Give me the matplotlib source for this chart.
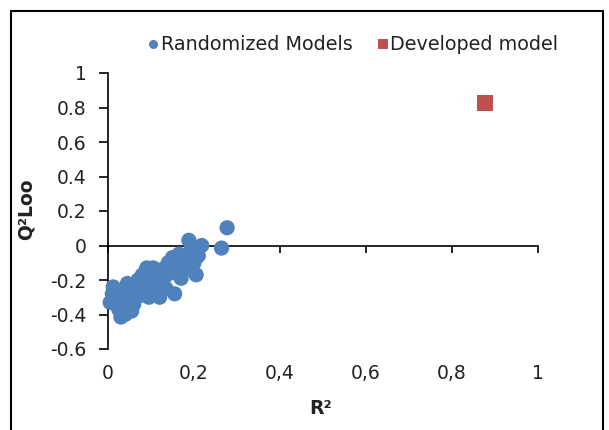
import matplotlib
matplotlib.use("Agg")
import matplotlib.pyplot as plt
from matplotlib.lines import Line2D
from matplotlib.patches import Rectangle
from matplotlib.ticker import FuncFormatter

plt.rcParams['font.family'] = ['DejaVu Sans']

# Randomized models (R², Q²Loo)
rand_r2 = [0.005, 0.012, 0.020, 0.025, 0.030, 0.035, 0.040, 0.045, 0.050, 0.055,
           0.060, 0.065, 0.070, 0.075, 0.080, 0.085, 0.090, 0.095, 0.100, 0.105,
           0.110, 0.115, 0.120, 0.125, 0.130, 0.135, 0.140, 0.145, 0.150, 0.155,
           0.160, 0.165, 0.170, 0.175, 0.180, 0.188, 0.190, 0.200, 0.205, 0.210,
           0.218, 0.264, 0.277, 0.010, 0.050, 0.100, 0.040, 0.120]
rand_q2 = [-0.33, -0.24, -0.29, -0.37, -0.415, -0.32, -0.26, -0.22, -0.30, -0.38,
           -0.34, -0.25, -0.20, -0.29, -0.17, -0.23, -0.13, -0.30, -0.20, -0.13,
           -0.26, -0.17, -0.22, -0.14, -0.19, -0.25, -0.10, -0.16, -0.07, -0.28,
           -0.13, -0.05, -0.19, -0.09, -0.14, 0.03, -0.04, -0.10, -0.17, -0.06,
           0.00, -0.015, 0.103, -0.28, -0.35, -0.27, -0.40, -0.30]

# Developed model
dev_r2 = [0.877]
dev_q2 = [0.825]

x_ticks = [0, 0.2, 0.4, 0.6, 0.8, 1]
y_ticks = [-0.6, -0.4, -0.2, 0, 0.2, 0.4, 0.6, 0.8, 1]

blue = '#4F81BD'
red = '#C0504D'
txt = '#222222'

fig = plt.figure(figsize=(6.09, 4.30), dpi=100)
ax = fig.add_axes([108/609, 1-349/430, (538-108)/609, (349-73)/430])

ax.scatter(rand_r2, rand_q2, s=120, color=blue, edgecolors='none', zorder=3, clip_on=False)
ax.scatter(dev_r2, dev_q2, s=135, marker='s', color=red, edgecolors='none', zorder=3, clip_on=False)

ax.set_xlim(0, 1)
ax.set_ylim(-0.6, 1)

for s in ['top', 'right']:
    ax.spines[s].set_visible(False)
ax.spines['bottom'].set_position(('data', 0))
ax.spines['bottom'].set_linewidth(1.2)
ax.spines['left'].set_linewidth(1.2)
ax.spines['bottom'].set_zorder(2)

ax.set_yticks(y_ticks)
ax.set_yticklabels([('%g' % v) for v in y_ticks])
ax.tick_params(axis='y', direction='out', length=6.5, width=1.2, pad=9,
               labelsize=13.5, labelcolor=txt)
ax.set_xticks(x_ticks)
ax.tick_params(axis='x', direction='out', length=5, width=1.2, labelbottom=False)

sec = ax.secondary_xaxis('bottom')
sec.set_xticks(x_ticks)
sec.xaxis.set_major_formatter(FuncFormatter(lambda v, p: ('%g' % v).replace('.', ',')))
sec.spines['bottom'].set_visible(False)
sec.tick_params(axis='x', length=0, pad=11, labelsize=13.5, labelcolor=txt)

fig.text(321/609, 1-408/430, 'R²', ha='center', va='center', fontsize=13.5,
         fontweight='bold', color=txt)
fig.text(26/609, 1-209/430, 'Q²Loo', ha='center', va='center', rotation=90,
         fontsize=13.5, fontweight='bold', color=txt)

handles = [Line2D([], [], marker='o', ls='', ms=6.5, color=blue, markeredgewidth=0),
           Line2D([], [], marker='s', ls='', ms=6.5, color=red, markeredgewidth=0)]
leg = fig.legend(handles, ['Randomized Models', 'Developed model'], loc='center',
                 bbox_to_anchor=(353/609, 1-45/430), ncol=2, frameon=False,
                 fontsize=13.8, handlelength=0.6, handletextpad=0.08, columnspacing=1.3)
for t in leg.get_texts():
    t.set_color(txt)

fig.patches.append(Rectangle((11/609, -0.1), (603-11)/609, 1.1-11/430,
                             transform=fig.transFigure, fill=False,
                             edgecolor='black', linewidth=1.5))

fig.savefig('out.png', dpi=100)
